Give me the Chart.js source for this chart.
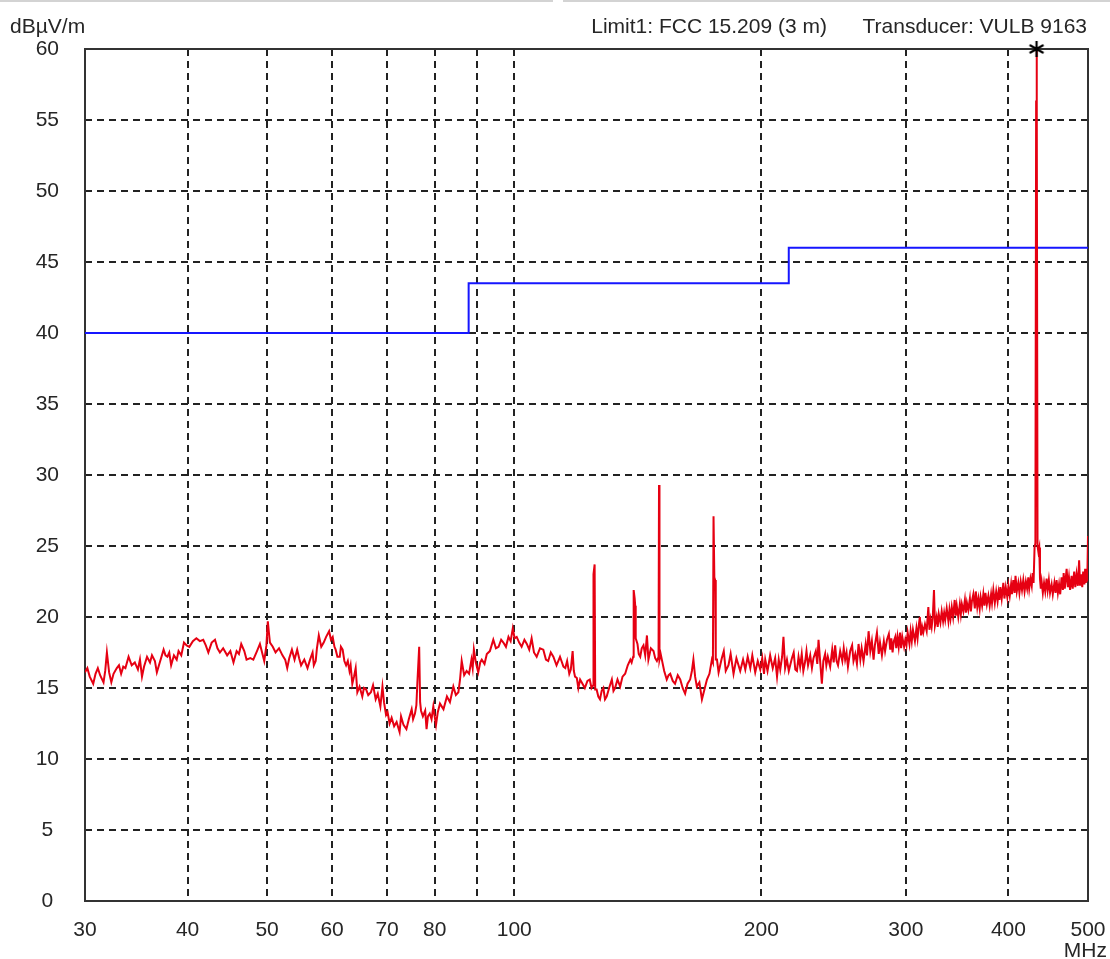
<!DOCTYPE html>
<html>
<head>
<meta charset="utf-8">
<script src="https://cdn.jsdelivr.net/npm/chart.js@4.4.1/dist/chart.umd.min.js"></script>
<style>
html,body{margin:0;padding:0;background:#fff;}
#wrap{position:relative;width:1110px;height:959px;overflow:hidden;font-family:"Liberation Sans",Arial,sans-serif;color:#262626;}
canvas{position:absolute;left:0;top:0;}
.t{position:absolute;font-size:21px;line-height:21px;white-space:nowrap;}
.rule{position:absolute;top:0;height:2px;background:#d3d3d3;}
</style>
</head>
<body>
<div id="wrap">
<div class="rule" style="left:0;width:553px"></div>
<div class="rule" style="left:563px;width:547px"></div>
<canvas id="c" width="1110" height="959"></canvas>
<div class="t" style="left:10px;top:15px">dBµV/m</div>
<div class="t" style="right:283px;top:15px">Limit1: FCC 15.209 (3 m)</div>
<div class="t" style="right:23px;top:15px">Transducer: VULB 9163</div>
<div class="t" style="right:3px;top:939px">MHz</div>
</div>
<script>
// ---- data (frequency in MHz, level in dBµV/m) ----
const freqMHz = [
30.0,30.2,30.4,30.7,30.9,31.1,31.3,31.6,31.75,31.9,32.1,32.3,32.5,32.8,33.0,33.2,33.4,33.6,33.9,34.2,
34.5,34.8,35.0,35.2,35.4,35.7,36.0,36.2,36.5,36.7,37.0,37.4,37.6,37.8,38.0,38.2,38.5,38.8,39.0,39.3,
39.6,39.9,40.2,40.6,41.0,41.4,41.8,42.1,42.4,42.8,43.2,43.5,43.8,44.2,44.7,45.1,45.5,45.9,46.2,46.5,
46.9,47.2,47.7,48.1,48.6,49.0,49.3,49.6,49.9,50.1,50.25,50.4,50.8,51.2,51.7,52.2,52.6,52.9,53.2,53.6,
54.0,54.4,54.7,55.0,55.5,56.0,56.4,56.8,57.0,57.3,57.5,57.8,58.2,58.6,59.0,59.5,59.8,60.1,60.4,60.6,
60.9,61.3,61.5,61.8,62.1,62.4,62.7,63.0,63.2,63.5,63.8,64.1,64.4,64.8,65.3,65.6,66.0,66.4,66.9,67.3,
67.8,68.2,68.7,69.1,69.4,69.8,70.1,70.5,70.9,71.4,71.9,72.5,72.8,73.3,73.9,74.4,75.0,75.3,75.7,76.0,
76.2,76.6,76.8,77.0,77.4,77.9,78.2,78.5,78.9,79.3,79.7,80.0,80.3,80.7,81.2,82.0,82.8,83.5,84.3,84.9,
85.5,85.9,86.3,86.9,87.5,88.1,88.7,89.0,89.3,89.8,90.4,90.9,91.3,92.0,92.6,93.4,94.3,95.0,95.7,96.4,
97.0,97.7,98.4,99.0,99.6,100.1,100.7,101.4,102.1,102.9,103.6,104.3,105.0,105.7,106.5,107.5,108.5,109.3,110.0,110.8,
111.6,112.6,113.7,114.8,115.4,116.0,116.7,117.2,117.8,118.2,118.6,119.2,119.7,120.3,121.1,121.9,122.8,123.6,124.2,124.8,
124.9,125.3,125.5,126.0,126.6,127.2,127.8,128.4,129.0,129.6,130.5,131.5,132.1,132.7,133.6,134.6,135.5,136.5,137.5,138.5,
139.0,139.6,139.8,140.2,140.4,140.6,141.3,141.8,142.4,143.0,143.7,144.4,145.1,145.7,146.7,147.8,148.5,149.2,149.9,150.1,
150.3,150.8,151.3,152.3,153.4,154.2,154.9,156.0,157.0,158.2,159.3,160.4,161.5,162.6,163.8,164.6,165.3,166.1,166.9,168.1,
169.3,170.5,171.7,172.9,174.1,174.6,174.9,175.3,175.7,176.0,176.6,177.4,178.2,179.0,
180,181,182.4,183.5,185,186.5,188.5,190,191.2,192.5,193.9,195,196.6,198,199.4,200.5,201.5,202.2,203.5,205,
206.5,207.9,209,210,210.9,212,212.8,213.8,214.9,216,217.9,219,220,221,222,223,224,225,226.2,227,
228,229.4,230.5,231.5,233,234,234.8,236,237,238,239.2,240,241,242.6,244,245,246,247,248,249.5,
251,252,253,254,255,256.6,258,259,260.3,261.5,262.7,264,265,266.4,268,269,270.2,271.5,272.7,274,
275,276.6,278,279,280.5,282,283,284.5,286,287.1,288,289,290,291.2,292,293,294,295.1,296,297,
298.5,299.5,300.5,301.5,303,304,305,306,307.7,309,310,311,312,313,314,315,316.5,318,319.5,320.5,
321.5,322.5,323.5,324.6,325.5,327,328,329,330.5,331.7,333,334,335,336.4,338,339,340,341.2,342.5,344,
345,346,347.5,349,350,351,352.5,354,355,356,357.4,359,360,361,362.5,364,365,366.5,367.7,369,
370,371.5,372.8,374,375,376.5,378.1,379.5,381,382,383.4,385,386.5,388,389,390,391,392.5,394.3,395.5,
397,398.7,400,401.5,403,404,405.5,407,408,409.5,411.2,412.5,414,415.5,417,418.5,420,421.5,422.9,424,
425.5,427,428.1,429.2,430.4,431.4,432.3,432.8,433.3,434.0,435,436.1,437,438,439,440.5,442,443.5,445.2,446.5,
448,449.5,451.5,453,455,456.5,457.8,459.5,461,462.5,464.3,466,467,468.5,470.9,472.5,474,475.5,477.5,479,
481,482.5,484.2,486,487.7,489,490.5,492,493.3,495,496,497,497.9,499,500
];
const levelDb = [
16.1,16.4,15.8,15.3,16.0,16.4,15.9,15.4,16.2,17.5,16.1,15.4,16.0,16.4,16.6,16.0,16.5,16.4,17.2,16.6,
16.8,16.3,17.0,15.8,16.5,17.2,16.8,17.3,16.9,16.1,16.8,17.7,17.3,17.2,17.5,16.6,17.3,17.0,17.6,17.3,
18.2,18.0,17.9,18.3,18.5,18.3,18.4,18.0,17.5,18.2,18.4,17.8,17.5,17.8,17.3,17.6,16.8,17.6,17.4,18.1,
17.6,17.0,17.1,17.0,17.6,18.1,17.5,16.9,18.0,19.7,18.9,18.2,17.9,17.5,17.8,17.3,17.0,16.4,17.1,17.7,
17.0,17.7,17.1,16.6,17.0,16.4,17.0,17.5,16.6,16.9,17.8,18.7,17.9,18.2,18.6,19.0,18.4,18.6,17.9,17.7,
17.2,17.2,17.9,17.7,16.9,16.6,16.9,16.2,16.6,15.3,15.8,16.4,14.7,15.1,14.4,15.0,14.9,14.5,14.7,15.2,
14.2,14.6,13.7,15.1,14.0,13.1,13.3,12.5,12.9,12.3,12.6,11.9,13.0,12.4,12.1,12.8,13.5,12.8,13.2,13.8,
15.3,17.9,14.0,13.4,13.0,13.4,12.1,13.0,13.2,12.8,13.7,13.0,12.4,13.3,13.9,13.5,14.4,14.0,15.1,14.5,
14.7,15.6,16.9,15.9,16.2,16.0,17.0,16.4,17.7,16.8,16.1,16.8,17.0,16.7,17.4,17.6,18.4,17.8,17.9,18.4,
18.2,17.9,18.6,18.3,19.2,18.5,18.6,18.2,17.9,18.4,18.1,17.7,18.5,17.5,17.2,17.8,17.7,17.0,16.9,17.5,
17.2,16.6,17.2,16.5,16.4,16.9,16.0,16.3,17.6,16.2,15.8,15.7,15.0,15.6,15.3,15.0,15.5,15.6,15.0,15.2,
23.0,23.7,14.9,14.9,14.4,14.2,14.8,15.0,14.2,14.4,15.0,15.6,14.8,15.0,15.6,15.1,15.8,16.0,16.6,17.0,
16.8,17.2,21.9,21.3,20.8,18.5,18.1,17.4,17.2,17.8,18.0,17.3,18.7,17.0,17.8,17.6,17.1,16.9,17.2,29.3,
17.0,17.4,17.0,16.2,15.6,15.9,16.0,15.5,15.3,15.9,15.6,15.0,14.6,15.3,15.6,16.2,17.0,15.8,15.1,15.4,
14.2,14.9,15.6,16.0,17.0,16.8,27.1,22.8,22.6,17.0,17.0,16.1,16.6,17.1,
17.6,16.2,16.6,17.4,16.0,17.1,16.2,17.0,16.3,17.2,16.4,17.3,16.1,16.9,16.3,17.1,16.0,17.0,16.2,17.3,
16.4,17.1,15.8,17.0,16.3,17.2,18.6,16.4,17.0,16.2,17.1,17.5,16.3,16.2,17.2,16.5,17.4,16.2,16.9,17.6,
16.6,17.3,16.4,17.1,17.6,16.7,18.4,16.7,15.3,16.9,17.4,16.6,17.2,16.5,17.7,16.8,18.0,16.9,16.6,17.6,
16.9,17.8,17.0,17.5,16.5,17.6,18.0,16.9,17.4,16.7,18.1,17.0,17.8,16.9,18.1,17.3,19.0,17.6,18.3,17.0,
18.0,18.9,17.4,18.2,17.3,18.3,17.6,18.4,18.8,17.7,18.5,17.5,18.3,18.6,17.8,18.6,17.9,18.9,17.8,18.6,
17.9,18.4,18.0,18.9,18.1,19.0,18.3,19.1,18.3,19.2,18.5,19.4,20.0,18.7,19.3,18.9,19.5,19.0,20.7,19.1,
19.8,19.3,20.0,21.9,19.4,20.0,19.3,20.2,19.6,20.4,19.7,20.3,19.8,20.6,19.7,20.5,19.9,20.7,20.0,21.2,
20.1,20.8,20.0,20.9,20.2,20.9,20.4,21.2,20.3,21.0,20.5,21.3,20.4,21.1,21.6,20.6,21.8,20.7,21.3,20.6,
21.4,20.8,21.6,20.8,21.7,20.9,21.5,20.8,21.6,21.0,21.9,21.0,21.8,21.1,21.7,21.2,22.1,21.3,22.4,21.3,
22.1,21.4,22.2,21.5,22.3,21.6,22.6,21.7,22.9,21.8,22.4,21.7,22.5,21.9,22.6,21.8,22.5,22.0,22.8,22.0,
22.7,22.2,23.1,22.4,24.9,25.2,56.3,60.0,56.3,25.0,24.6,24.9,22.7,22.0,22.5,21.7,22.4,21.8,22.7,21.9,
22.6,21.7,22.3,21.6,22.4,21.7,22.6,21.7,22.3,21.6,22.8,21.9,23.1,22.0,23.4,22.1,22.8,21.9,22.9,22.0,
23.2,22.1,23.0,22.2,24.0,22.2,23.0,22.1,23.2,22.3,23.4,22.4,23.1,22.5,25.7
];
const limitFreq  = [30, 88, 88, 216, 216, 500];
const limitLevel = [40, 40, 43.5, 43.5, 46, 46];
const markerFreq  = [432.8];
const markerLevel = [60];
const xGridValues = [30, 40, 50, 60, 70, 80, 90, 100, 200, 300, 400, 500];
const xTickText   = ['30','40','50','60','70','80','','100','200','300','400','500'];
const yMin = 0, yMax = 60, yStep = 5;

// ---- rendering ----
const FONT = '"Liberation Sans", Arial, sans-serif';
const TXT = '#262626';

function makeAsterisk() {
  const c = document.createElement('canvas');
  c.width = 18; c.height = 18;
  const g = c.getContext('2d');
  g.strokeStyle = '#000';
  g.lineWidth = 2.2;
  const cx = 9, cy = 9, r = 8;
  g.beginPath();
  [90, 30, 150].forEach(a => {
    const t = a * Math.PI / 180;
    g.moveTo(cx - r * Math.cos(t), cy - r * Math.sin(t));
    g.lineTo(cx + r * Math.cos(t), cy + r * Math.sin(t));
  });
  g.stroke();
  return c;
}

const framePlugin = {
  id: 'frame',
  beforeDatasetsDraw(chart) {
    const {ctx, chartArea: a} = chart;
    ctx.save();
    ctx.strokeStyle = '#333';
    ctx.lineWidth = 2;
    ctx.strokeRect(a.left, a.top, a.right - a.left, a.bottom - a.top);
    ctx.restore();
  }
};

const pts = (xs, ys) => xs.map((x, i) => ({x: x, y: ys[i]}));

const gridCommon = {color: '#222', lineWidth: 2, drawTicks: false, borderDash: [7, 5]};
const borderCommon = {display: false, dash: [7, 5]};

new Chart(document.getElementById('c'), {
  type: 'line',
  data: {
    datasets: [
      {label: 'Peak', data: pts(markerFreq, markerLevel), showLine: false,
       pointStyle: makeAsterisk(), pointRadius: 8, pointHoverRadius: 8, clip: false, order: 0},
      {label: 'Trace', data: pts(freqMHz, levelDb), borderColor: 'rgb(230,0,18)',
       borderWidth: 2, pointRadius: 0, tension: 0, order: 1},
      {label: 'Limit1', data: pts(limitFreq, limitLevel), borderColor: '#1616ff',
       borderWidth: 2, pointRadius: 0, tension: 0, order: 2}
    ]
  },
  options: {
    responsive: false,
    animation: false,
    devicePixelRatio: 1,
    events: [],
    layout: {padding: {left: 0, right: 22, top: 49, bottom: 0}},
    plugins: {legend: {display: false}, tooltip: {enabled: false}},
    scales: {
      x: {
        type: 'logarithmic', position: 'bottom', min: 30, max: 500,
        afterBuildTicks: s => { s.ticks = xGridValues.map(v => ({value: v})); },
        afterFit: s => { s.height = 58; s.paddingLeft = 12; s.paddingRight = 18; },
        ticks: {autoSkip: false, maxRotation: 0, minRotation: 0, padding: 17, color: TXT,
                font: {family: FONT, size: 21}, callback: (v, i) => xTickText[i]},
        grid: gridCommon,
        border: borderCommon
      },
      y: {
        min: yMin, max: yMax,
        afterFit: s => { s.width = 85; },
        ticks: {stepSize: yStep, padding: 26, crossAlign: 'center', color: TXT,
                font: {family: FONT, size: 21}},
        grid: gridCommon,
        border: borderCommon
      }
    }
  },
  plugins: [framePlugin]
});
</script>
</body>
</html>
